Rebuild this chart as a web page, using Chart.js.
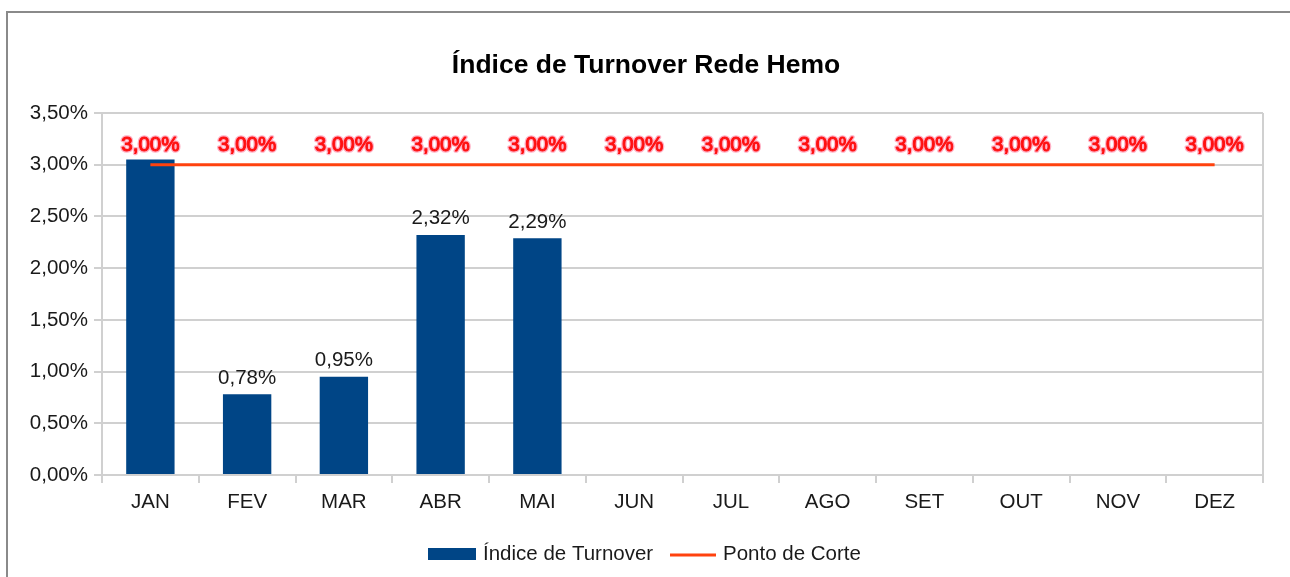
<!DOCTYPE html>
<html>
<head>
<meta charset="utf-8">
<script src="https://cdn.jsdelivr.net/npm/chart.js@4.4.1/dist/chart.umd.min.js"></script>
<style>
  html, body { margin: 0; padding: 0; background: #fff; }
  #wrap { position: relative; width: 1290px; height: 577px; }
</style>
</head>
<body>
<div id="wrap"><canvas id="c" width="1290" height="577"></canvas></div>
<script>
// Months, turnover index (%) and the cut-off reference (%)
const months = ['JAN', 'FEV', 'MAR', 'ABR', 'MAI', 'JUN', 'JUL', 'AGO', 'SET', 'OUT', 'NOV', 'DEZ'];
const turnover = [3.05, 0.78, 0.95, 2.32, 2.29, null, null, null, null, null, null, null];
const cutoff = [3.00, 3.00, 3.00, 3.00, 3.00, 3.00, 3.00, 3.00, 3.00, 3.00, 3.00, 3.00];
const yTicks = [0, 0.5, 1.0, 1.5, 2.0, 2.5, 3.0, 3.5];

const FONT = '"Liberation Sans", Arial, sans-serif';
const FS = 20.5;
const BLUE = '#004586';
const ORANGE = '#ff420e';
const fmt = v => v.toFixed(2).replace('.', ',') + '%';

// Frame, title, legend, right border and value labels
const decor = {
  id: 'decor',
  beforeDraw(chart) {
    const ctx = chart.ctx;
    ctx.save();
    ctx.fillStyle = '#fff';
    ctx.fillRect(0, 0, chart.width, chart.height);
    ctx.strokeStyle = '#8a8a8a';
    ctx.lineWidth = 2;
    ctx.strokeRect(7, 12, 1400, 700);
    ctx.restore();
  },
  afterDatasetsDraw(chart) {
    const ctx = chart.ctx;
    const area = chart.chartArea;
    ctx.save();
    // right border of plot area
    ctx.strokeStyle = '#d0d0d0';
    ctx.lineWidth = 2;
    ctx.beginPath();
    ctx.moveTo(area.right, area.top);
    ctx.lineTo(area.right, area.bottom + 8);
    ctx.stroke();

    // title
    ctx.fillStyle = '#000';
    ctx.font = 'bold 26.5px ' + FONT;
    ctx.textAlign = 'center';
    ctx.textBaseline = 'middle';
    ctx.fillText('Índice de Turnover Rede Hemo', 646, 66);

    // bar value labels
    ctx.font = FS + 'px ' + FONT;
    ctx.fillStyle = '#1a1a1a';
    ctx.textBaseline = 'bottom';
    const barMeta = chart.getDatasetMeta(0);
    barMeta.data.forEach((el, i) => {
      const v = turnover[i];
      if (v == null || i === 0) return;
      ctx.fillText(fmt(v), el.x, el.y - 6);
    });

    // cut-off value labels
    const lineMeta = chart.getDatasetMeta(1);
    ctx.font = FS + 'px ' + FONT;
    ctx.textBaseline = 'middle';
    ctx.lineJoin = 'round';
    lineMeta.data.forEach((pt, i) => {
      const t = fmt(cutoff[i]);
      ctx.strokeStyle = '#ffb0c4';
      ctx.lineWidth = 3.5;
      ctx.strokeText(t, pt.x, pt.y - 19);
      ctx.fillStyle = '#ff1010';
      ctx.fillText(t, pt.x, pt.y - 19);
      ctx.lineWidth = 1;
      ctx.strokeStyle = '#ff1010';
      ctx.strokeText(t, pt.x, pt.y - 19);
    });

    // legend
    ctx.fillStyle = BLUE;
    ctx.fillRect(428, 548, 48, 12);
    ctx.fillStyle = '#1a1a1a';
    ctx.font = FS + 'px ' + FONT;
    ctx.textAlign = 'left';
    ctx.textBaseline = 'middle';
    ctx.fillText('Índice de Turnover', 483, 554);
    ctx.strokeStyle = ORANGE;
    ctx.lineWidth = 3;
    ctx.beginPath();
    ctx.moveTo(670, 555);
    ctx.lineTo(716, 555);
    ctx.stroke();
    ctx.fillText('Ponto de Corte', 723, 554);
    ctx.restore();
  }
};

new Chart(document.getElementById('c'), {
  data: {
    labels: months,
    datasets: [
      {
        type: 'bar',
        label: 'Índice de Turnover',
        data: turnover,
        backgroundColor: BLUE,
        barPercentage: 0.5,
        categoryPercentage: 1.0,
        order: 2
      },
      {
        type: 'line',
        label: 'Ponto de Corte',
        data: cutoff,
        borderColor: ORANGE,
        borderWidth: 3,
        pointRadius: 0,
        fill: false,
        order: 1
      }
    ]
  },
  options: {
    responsive: false,
    animation: false,
    layout: { padding: { top: 113, right: 27, left: 0, bottom: 0 } },
    plugins: { legend: { display: false }, title: { display: false }, tooltip: { enabled: false } },
    scales: {
      x: {
        offset: true,
        grid: { offset: true, drawOnChartArea: false, drawTicks: true, tickLength: 8, color: '#d0d0d0', lineWidth: 2 },
        border: { display: true, color: '#d0d0d0', width: 2 },
        ticks: { color: '#1a1a1a', font: { family: FONT, size: FS }, padding: 7 },
        afterFit(s) { s.height = 102; }
      },
      y: {
        min: 0,
        max: 3.5,
        afterBuildTicks(s) { s.ticks = yTicks.map(v => ({ value: v })); },
        grid: { color: '#d0d0d0', lineWidth: 2, tickLength: 8 },
        border: { display: true, color: '#d0d0d0', width: 2 },
        ticks: { color: '#1a1a1a', font: { family: FONT, size: FS }, padding: 6, callback: v => fmt(v) },
        afterFit(s) { s.width = 102; }
      }
    }
  },
  plugins: [decor]
});
</script>
</body>
</html>
